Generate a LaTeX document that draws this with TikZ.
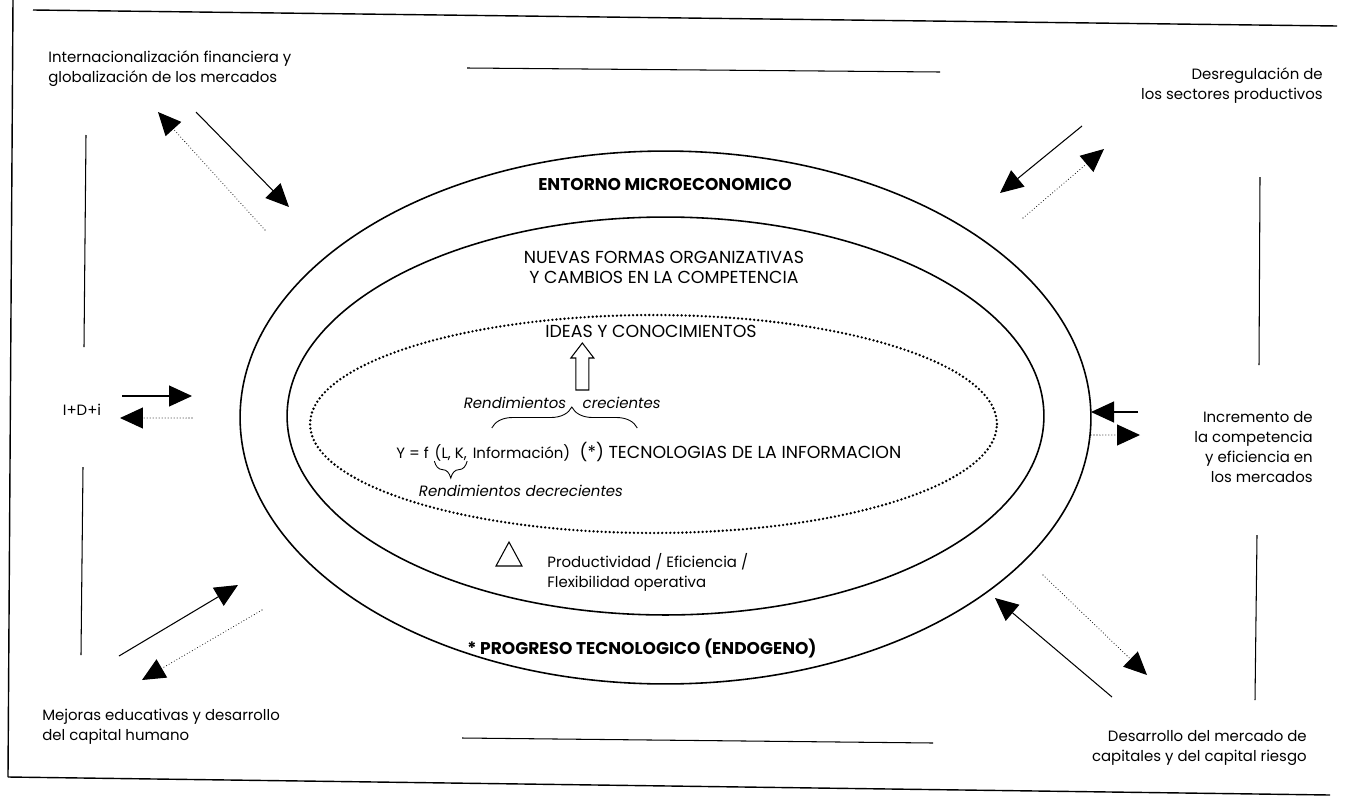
\documentclass[tikz,border=0pt]{standalone}
\usepackage{fontspec}
\setmainfont{Poppins}
\usetikzlibrary{arrows.meta,positioning,calc,decorations.pathreplacing}
\tikzset{
  lbl/.style={inner sep=0pt,font=\fontsize{8.5}{11.4}\selectfont},
  caps/.style={inner sep=0pt,font=\fontsize{9.9}{11.4}\selectfont},
  heavy/.style={inner sep=0pt,font=\fontsize{9.7}{11.4}\selectfont\bfseries},
  rend/.style={inner sep=0pt,font=\fontsize{8.5}{11.4}\selectfont\itshape},
  rule/.style={line width=0.8pt},
  ring/.style={line width=0.9pt},
  dotring/.style={line width=1.5pt,line cap=round,dash pattern=on 0pt off 2.3pt},
  inarrow/.style={line width=0.6pt,-{Triangle[length=4.6mm,width=4.2mm]}},
  outarrow/.style={line width=0.6pt,line cap=round,dash pattern=on 0pt off 1.7pt,-{Triangle[length=4.6mm,width=4.2mm]}},
  bracetop/.style={decorate,line width=0.5pt,decoration={brace,amplitude=4.2mm,aspect=0.55}},
  bracebot/.style={decorate,line width=0.5pt,decoration={brace,amplitude=3.4mm}}
}
\begin{document}
\begin{tikzpicture}[x=0.02cm,y=-0.02cm]
\useasboundingbox (0,0) rectangle (1345,798);
% frame and rules
\draw[rule] (33,10) -- (1337,26);
\draw[rule] (13,0) -- (8,777);
\draw[rule] (8,777) -- (1330,795);
\draw[line width=0.6pt] (467,68) -- (940,72);
\draw[line width=0.6pt] (462,738) -- (933,743);
\draw[line width=0.6pt] (86,135) -- (84,347);
\draw[line width=0.6pt] (83,467) -- (81,655);
\draw[line width=0.6pt] (1260,177) -- (1259,365);
\draw[line width=0.6pt] (1257,535) -- (1255,700);
% rings
\draw[ring] (665.5,417.5) ellipse [x radius=8.51cm,y radius=5.33cm];
\draw[ring] (665.5,416) ellipse [x radius=7.57cm,y radius=3.98cm];
\draw[dotring] (653.5,424) ellipse [x radius=6.87cm,y radius=2.18cm];
% outer texts
\node[lbl,anchor=west,align=left] (intl) at (48,69) {Internacionalización financiera y\\globalización de los mercados};
\node[lbl,anchor=east,align=right] (desreg) at (1323,86) {Desregulación de\\los sectores productivos};
\node[lbl] (idi) at (82,410) {I+D+i};
\node[lbl,anchor=east,align=right] (incr) at (1313,447) {Incremento de\\la competencia\\y eficiencia en\\los mercados};
\node[lbl,anchor=west,align=left] (mejoras) at (42,727) {Mejoras educativas y desarrollo\\del capital humano};
\node[lbl,anchor=east,align=right] (desarr) at (1307,748) {Desarrollo del mercado de\\capitales y del capital riesgo};
% inner texts
\node[heavy] (entorno) at (665,184) {ENTORNO MICROECONOMICO};
\node[caps,align=center] (nuevas) at (664,267) {NUEVAS FORMAS ORGANIZATIVAS\\Y CAMBIOS EN LA COMPETENCIA};
\node[caps] (ideas) at (651,331) {IDEAS Y CONOCIMIENTOS};
\node[lbl,anchor=base west] (yf) at (396,458) {Y = f};
\node[lbl,base right=3pt of yf] (lk) {(L, K,};
\node[lbl,base right=3pt of lk] (info) {Información)};
\node[caps,base right=5pt of info] (tic) {(*) TECNOLOGIAS DE LA INFORMACION};
\coordinate (bra) at ([xshift=11pt]info.base west |- 0,428);
\coordinate (brb) at ([xshift=33pt]tic.base west |- 0,428);
\coordinate (tip) at ($(bra)!0.55!(brb)$);
\draw[bracetop] (bra) -- (brb);
\draw[bracebot] (lk.south east) -- (lk.south west);
\node[rend,anchor=base east] (rcrec) at ([xshift=-3pt]tip |- 0,408) {Rendimientos};
\node[rend,anchor=base west] (crec) at ([xshift=6pt]tip |- 0,408) {crecientes};
\node[rend,anchor=base west] (rdecr) at ([xshift=-9pt,yshift=-22pt]lk.base west) {Rendimientos decrecientes};
\draw[line width=0.6pt] ([xshift=6pt]tip |- 0,390) ++(-6.5,0) -- ++(0,-32) -- ++(-5,0) -- ++(11.5,-15) -- ++(11.5,15) -- ++(-5,0) -- ++(0,32) -- cycle;
\draw[line width=0.6pt] (496,566) -- (522,566) -- (509,542) -- cycle;
\node[lbl,anchor=west,align=left] (prod) at (547,572) {Productividad / Eficiencia /\\Flexibilidad operativa};
\node[heavy] (progreso) at (642,648) {* PROGRESO TECNOLOGICO (ENDOGENO)};
% arrow ends
\coordinate (tlA) at (196,112); \coordinate (tlB) at (289,207);
\coordinate (tlC) at (265,230); \coordinate (tlD) at (158,112);
\coordinate (trA) at (1082,126); \coordinate (trB) at (1000,193);
\coordinate (trC) at (1023,218); \coordinate (trD) at (1104,149);
\coordinate (mlA) at (122,396); \coordinate (mlB) at (192,396);
\coordinate (mlC) at (192,418); \coordinate (mlD) at (120,418);
\coordinate (mrA) at (1138,412); \coordinate (mrB) at (1091,412);
\coordinate (mrC) at (1091,435); \coordinate (mrD) at (1140,435);
\coordinate (blA) at (119,656); \coordinate (blB) at (238,585);
\coordinate (blC) at (262,610); \coordinate (blD) at (142,680);
\coordinate (brA) at (1112,697); \coordinate (brB) at (995,598);
\coordinate (brC) at (1043,575); \coordinate (brD) at (1147,675);
\draw[inarrow] (tlA) -- (tlB);
\draw[outarrow] (tlC) -- (tlD);
\draw[inarrow] (trA) -- (trB);
\draw[outarrow] (trC) -- (trD);
\draw[inarrow] (mlA) -- (mlB);
\draw[outarrow] (mlC) -- (mlD);
\draw[inarrow] (mrA) -- (mrB);
\draw[outarrow] (mrC) -- (mrD);
\draw[inarrow] (blA) -- (blB);
\draw[outarrow] (blC) -- (blD);
\draw[inarrow] (brA) -- (brB);
\draw[outarrow] (brC) -- (brD);
\end{tikzpicture}
\end{document}
